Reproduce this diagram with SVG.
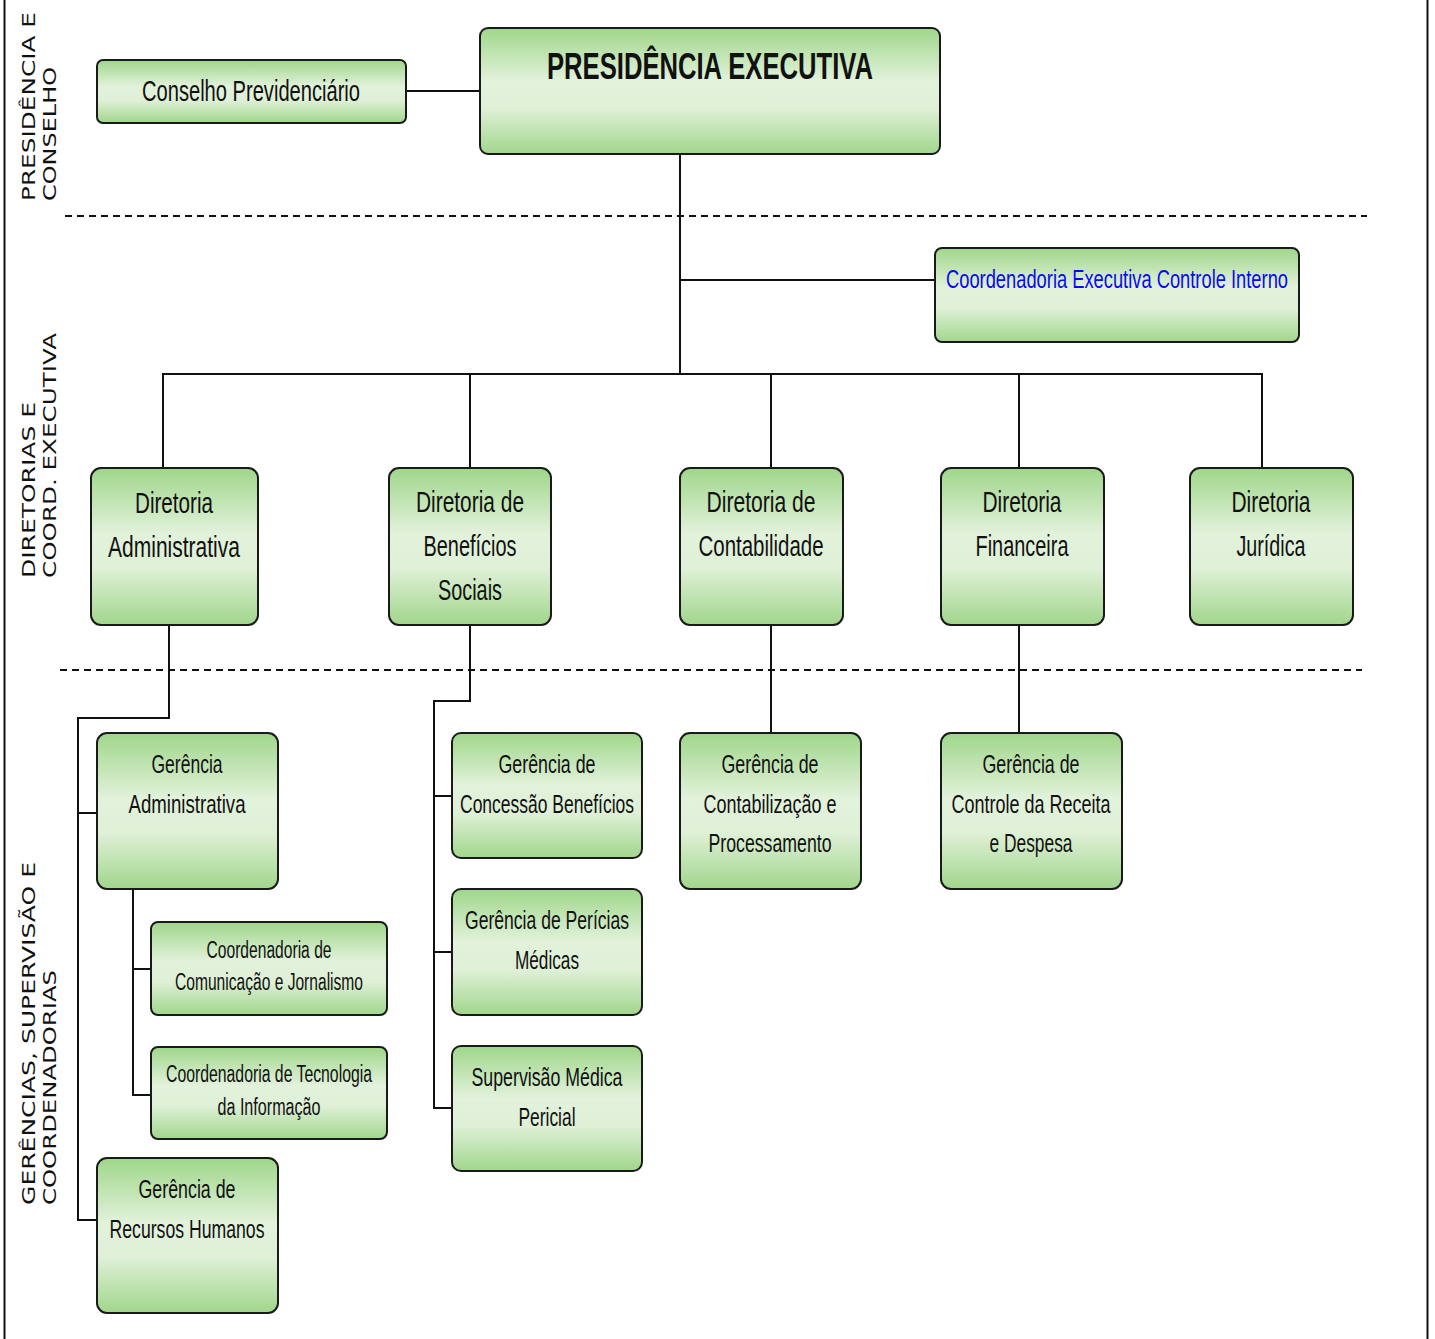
<svg xmlns="http://www.w3.org/2000/svg" width="1435" height="1339" viewBox="0 0 1435 1339">
<style>
.box{stroke:#1a1a1a;stroke-width:2;fill:url(#g)}
.t{font-family:"Liberation Sans Narrow","Liberation Sans",sans-serif;fill:#111;text-anchor:middle}
.l1{font-size:29px}
.l2{font-size:26px}
.l3{font-size:23px}
.side{font-family:"DejaVu Sans","Verdana",sans-serif;font-size:17px;fill:#111}
.c{stroke:#111;stroke-width:2;fill:none}
.d{stroke:#111;stroke-width:2;stroke-dasharray:7 5;fill:none}
</style>
<defs>
<linearGradient id="g" x1="0" y1="0" x2="0" y2="1">
<stop offset="0" stop-color="#9fd68a"/>
<stop offset="0.42" stop-color="#e2f2db"/>
<stop offset="0.64" stop-color="#dff0d7"/>
<stop offset="1" stop-color="#a1d68c"/>
</linearGradient>
</defs>
<rect width="1435" height="1339" fill="#fff"/>
<g id="frame">
<line x1="4.5" y1="0" x2="4.5" y2="1339" class="c"/>
<line x1="1427.5" y1="0" x2="1427.5" y2="1339" class="c"/>
<line x1="65" y1="216" x2="1367" y2="216" class="d"/>
<line x1="60" y1="670" x2="1362" y2="670" class="d"/>
</g>
<g id="side-labels">
<text class="side" transform="translate(35,201) rotate(-90)" textLength="189" lengthAdjust="spacingAndGlyphs">PRESIDÊNCIA E</text>
<text class="side" transform="translate(56,201) rotate(-90)" textLength="134" lengthAdjust="spacingAndGlyphs">CONSELHO</text>
<text class="side" transform="translate(35,578) rotate(-90)" textLength="176" lengthAdjust="spacingAndGlyphs">DIRETORIAS E</text>
<text class="side" transform="translate(56,578) rotate(-90)" textLength="245" lengthAdjust="spacingAndGlyphs">COORD. EXECUTIVA</text>
<text class="side" transform="translate(35,1205) rotate(-90)" textLength="343" lengthAdjust="spacingAndGlyphs">GERÊNCIAS, SUPERVISÃO E</text>
<text class="side" transform="translate(56,1205) rotate(-90)" textLength="235" lengthAdjust="spacingAndGlyphs">COORDENADORIAS</text>
</g>
<g id="connectors">
<path class="c" d="M406 91H480"/>
<path class="c" d="M680 154V374"/>
<path class="c" d="M680 280H935"/>
<path class="c" d="M163 468V374H1262V468"/>
<path class="c" d="M470 374V468M771 374V468M1019 374V468"/>
<path class="c" d="M169 625V718H78V1220H97"/>
<path class="c" d="M78 813H97"/>
<path class="c" d="M133 890V1095H151M133 969H151"/>
<path class="c" d="M470 625V701H434V1108H452M434 796H452M434 952H452"/>
<path class="c" d="M771 625V733"/>
<path class="c" d="M1019 625V733"/>
</g>
<g id="conselho">
<rect class="box" x="97" y="60" width="309" height="63" rx="6"/>
<text class="t l1" x="251" y="101" textLength="218" lengthAdjust="spacingAndGlyphs">Conselho Previdenciário</text>
</g>
<g id="presidencia">
<rect class="box" x="480" y="28" width="460" height="126" rx="8"/>
<text class="t" x="710" y="79" style="font-size:37px;font-weight:bold" textLength="326" lengthAdjust="spacingAndGlyphs">PRESIDÊNCIA EXECUTIVA</text>
</g>
<g id="coord-exec">
<rect class="box" x="935" y="248" width="364" height="94" rx="7"/>
<text class="t l2" x="1117" y="288" style="fill:#0a0af0" textLength="342" lengthAdjust="spacingAndGlyphs">Coordenadoria Executiva Controle Interno</text>
</g>
<g id="dir-adm">
<rect class="box" x="91" y="468" width="167" height="157" rx="10"/>
<text class="t l1" x="174" y="513" textLength="78" lengthAdjust="spacingAndGlyphs">Diretoria</text>
<text class="t l1" x="174" y="557" textLength="132" lengthAdjust="spacingAndGlyphs">Administrativa</text>
</g>
<g id="dir-ben">
<rect class="box" x="389" y="468" width="162" height="157" rx="10"/>
<text class="t l1" x="470" y="512" textLength="108" lengthAdjust="spacingAndGlyphs">Diretoria de</text>
<text class="t l1" x="470" y="556" textLength="93" lengthAdjust="spacingAndGlyphs">Benefícios</text>
<text class="t l1" x="470" y="600" textLength="64" lengthAdjust="spacingAndGlyphs">Sociais</text>
</g>
<g id="dir-cont">
<rect class="box" x="680" y="468" width="163" height="157" rx="10"/>
<text class="t l1" x="761" y="512" textLength="109" lengthAdjust="spacingAndGlyphs">Diretoria de</text>
<text class="t l1" x="761" y="556" textLength="125" lengthAdjust="spacingAndGlyphs">Contabilidade</text>
</g>
<g id="dir-fin">
<rect class="box" x="941" y="468" width="163" height="157" rx="10"/>
<text class="t l1" x="1022" y="512" textLength="79" lengthAdjust="spacingAndGlyphs">Diretoria</text>
<text class="t l1" x="1022" y="556" textLength="93" lengthAdjust="spacingAndGlyphs">Financeira</text>
</g>
<g id="dir-jur">
<rect class="box" x="1190" y="468" width="163" height="157" rx="10"/>
<text class="t l1" x="1271" y="512" textLength="79" lengthAdjust="spacingAndGlyphs">Diretoria</text>
<text class="t l1" x="1271" y="556" textLength="69" lengthAdjust="spacingAndGlyphs">Jurídica</text>
</g>
<g id="ger-adm">
<rect class="box" x="97" y="733" width="181" height="156" rx="10"/>
<text class="t l2" x="187" y="773" textLength="71" lengthAdjust="spacingAndGlyphs">Gerência</text>
<text class="t l2" x="187" y="813" textLength="117" lengthAdjust="spacingAndGlyphs">Administrativa</text>
</g>
<g id="coord-com">
<rect class="box" x="151" y="922" width="236" height="93" rx="7"/>
<text class="t l3" x="269" y="958" textLength="125" lengthAdjust="spacingAndGlyphs">Coordenadoria de</text>
<text class="t l3" x="269" y="990" textLength="188" lengthAdjust="spacingAndGlyphs">Comunicação e Jornalismo</text>
</g>
<g id="coord-ti">
<rect class="box" x="151" y="1047" width="236" height="92" rx="7"/>
<text class="t l3" x="269" y="1082" textLength="206" lengthAdjust="spacingAndGlyphs">Coordenadoria de Tecnologia</text>
<text class="t l3" x="269" y="1115" textLength="103" lengthAdjust="spacingAndGlyphs">da Informação</text>
</g>
<g id="ger-rh">
<rect class="box" x="97" y="1158" width="181" height="155" rx="10"/>
<text class="t l2" x="187" y="1198" textLength="97" lengthAdjust="spacingAndGlyphs">Gerência de</text>
<text class="t l2" x="187" y="1238" textLength="155" lengthAdjust="spacingAndGlyphs">Recursos Humanos</text>
</g>
<g id="ger-conc">
<rect class="box" x="452" y="733" width="190" height="125" rx="9"/>
<text class="t l2" x="547" y="773" textLength="97" lengthAdjust="spacingAndGlyphs">Gerência de</text>
<text class="t l2" x="547" y="813" textLength="174" lengthAdjust="spacingAndGlyphs">Concessão Benefícios</text>
</g>
<g id="ger-per">
<rect class="box" x="452" y="889" width="190" height="126" rx="9"/>
<text class="t l2" x="547" y="929" textLength="164" lengthAdjust="spacingAndGlyphs">Gerência de Perícias</text>
<text class="t l2" x="547" y="969" textLength="64" lengthAdjust="spacingAndGlyphs">Médicas</text>
</g>
<g id="sup-med">
<rect class="box" x="452" y="1046" width="190" height="125" rx="9"/>
<text class="t l2" x="547" y="1086" textLength="151" lengthAdjust="spacingAndGlyphs">Supervisão Médica</text>
<text class="t l2" x="547" y="1126" textLength="57" lengthAdjust="spacingAndGlyphs">Pericial</text>
</g>
<g id="ger-contab">
<rect class="box" x="680" y="733" width="181" height="156" rx="10"/>
<text class="t l2" x="770" y="773" textLength="97" lengthAdjust="spacingAndGlyphs">Gerência de</text>
<text class="t l2" x="770" y="813" textLength="133" lengthAdjust="spacingAndGlyphs">Contabilização e</text>
<text class="t l2" x="770" y="852" textLength="123" lengthAdjust="spacingAndGlyphs">Processamento</text>
</g>
<g id="ger-ctrl">
<rect class="box" x="941" y="733" width="181" height="156" rx="10"/>
<text class="t l2" x="1031" y="773" textLength="97" lengthAdjust="spacingAndGlyphs">Gerência de</text>
<text class="t l2" x="1031" y="813" textLength="159" lengthAdjust="spacingAndGlyphs">Controle da Receita</text>
<text class="t l2" x="1031" y="852" textLength="83" lengthAdjust="spacingAndGlyphs">e Despesa</text>
</g>
</svg>
